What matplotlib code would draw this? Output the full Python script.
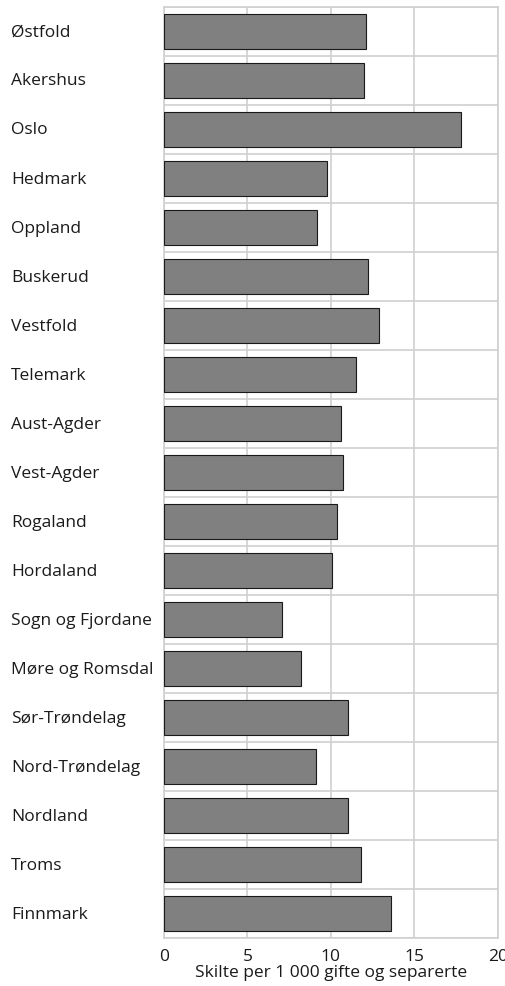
import numpy as np
import matplotlib
matplotlib.use("Agg")
import matplotlib.pyplot as plt
from matplotlib.transforms import blended_transform_factory

plt.rcParams['font.family'] = ['Open Sans', 'DejaVu Sans']

counties = ['Østfold', 'Akershus', 'Oslo', 'Hedmark', 'Oppland', 'Buskerud',
            'Vestfold', 'Telemark', 'Aust-Agder', 'Vest-Agder', 'Rogaland',
            'Hordaland', 'Sogn og Fjordane', 'Møre og Romsdal', 'Sør-Trøndelag',
            'Nord-Trøndelag', 'Nordland', 'Troms', 'Finnmark']
divorce_rate = [12.1, 12.0, 17.8, 9.8, 9.2, 12.2, 12.9, 11.5, 10.6, 10.7,
                10.4, 10.1, 7.1, 8.2, 11.0, 9.1, 11.0, 11.8, 13.6]
x_ticks = [0, 5, 10, 15, 20]
x_label = 'Skilte per 1 000 gifte og separerte'

grid_col = '#d0d0d0'
text_col = '#1a1a1a'
fs = 12.5

fig = plt.figure(figsize=(5.06, 9.87), dpi=100)
ax = fig.add_axes([0.324, 0.0486, 0.6596, 0.9433])

y = np.arange(len(counties))
ax.barh(y, divorce_rate, height=0.72, color='#808080', edgecolor='#1a1a1a',
        linewidth=0.8, zorder=3)

ax.set_xlim(0, 20)
ax.set_ylim(len(counties) - 0.5, -0.5)
ax.set_xticks(x_ticks)
ax.set_xticklabels([str(t) for t in x_ticks], fontsize=fs, color=text_col)
ax.tick_params(axis='x', length=0, pad=7)
ax.set_yticks(y)
ax.set_yticklabels([])
ax.tick_params(axis='y', length=0)
ax.set_yticks(np.arange(len(counties) + 1) - 0.5, minor=True)
ax.tick_params(axis='y', which='minor', length=0)

ax.grid(axis='x', color=grid_col, linewidth=1.2, zorder=0)
ax.grid(axis='y', which='minor', color=grid_col, linewidth=1.2, zorder=0)
ax.set_axisbelow(True)
for sp in ax.spines.values():
    sp.set_color(grid_col)
    sp.set_linewidth(1.2)

trans = blended_transform_factory(fig.transFigure, ax.transData)
for yi, name in zip(y, counties):
    ax.text(11 / 506, yi, name, transform=trans, ha='left', va='center',
            fontsize=fs, color=text_col)

ax.set_xlabel(x_label, fontsize=fs, color=text_col, labelpad=0)

fig.savefig('out.png', dpi=100)
